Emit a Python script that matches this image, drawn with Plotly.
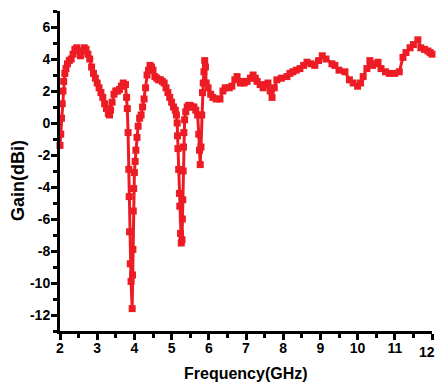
import plotly.graph_objects as go

freq = [2.00, 2.02, 2.04, 2.06, 2.08, 2.10, 2.13, 2.16, 2.20, 2.25, 2.30, 2.35, 2.40, 2.45,
        2.50, 2.55, 2.60, 2.65, 2.70, 2.75, 2.80, 2.85, 2.90, 2.95, 3.00, 3.05, 3.10, 3.15,
        3.20, 3.25, 3.30, 3.33, 3.36, 3.40, 3.45, 3.50, 3.55, 3.60, 3.65, 3.70, 3.76, 3.79,
        3.81, 3.83, 3.85, 3.86, 3.87, 3.89, 3.91, 3.94, 3.95, 3.96, 3.97, 3.98, 4.00, 4.02,
        4.04, 4.07, 4.10, 4.14, 4.18, 4.22, 4.26, 4.30, 4.34, 4.38, 4.42, 4.46, 4.50, 4.55,
        4.60, 4.65, 4.70, 4.75, 4.80, 4.85, 4.90, 4.95, 5.00, 5.05, 5.10, 5.13, 5.15, 5.16,
        5.17, 5.19, 5.21, 5.22, 5.24, 5.26, 5.28, 5.29, 5.30, 5.31, 5.32, 5.33, 5.35, 5.38,
        5.42, 5.46, 5.50, 5.55, 5.60, 5.65, 5.70, 5.73, 5.75, 5.77, 5.79, 5.81, 5.83, 5.85,
        5.87, 5.89, 5.91, 5.93, 5.98, 6.05, 6.11, 6.20, 6.30, 6.38, 6.44, 6.55, 6.62, 6.70,
        6.76, 6.85, 6.89, 6.95, 7.03, 7.12, 7.19, 7.25, 7.30, 7.38, 7.46, 7.53, 7.59, 7.65,
        7.70, 7.76, 7.83, 7.95, 8.10, 8.18, 8.26, 8.35, 8.45, 8.55, 8.64, 8.75, 8.85, 8.95,
        9.05, 9.15, 9.31, 9.39, 9.50, 9.66, 9.78, 9.88, 10.00, 10.08, 10.15, 10.25, 10.33,
        10.40, 10.48, 10.55, 10.63, 10.75, 10.85, 11.00, 11.12, 11.22, 11.30, 11.41, 11.50,
        11.62, 11.70, 11.80, 11.89, 11.95, 12.00]

gain = [-1.4, -0.7, 0.3, 1.2, 2.0, 2.6, 3.1, 3.4, 3.7, 3.9, 4.0, 4.3, 4.6, 4.7,
        4.5, 4.2, 4.5, 4.7, 4.6, 4.3, 4.0, 3.5, 3.1, 2.8, 2.5, 2.2, 1.9, 1.6,
        1.2, 0.9, 0.6, 0.5, 0.8, 1.3, 1.8, 2.0, 2.0, 2.1, 2.3, 2.5, 2.4, 1.6,
        0.9, -0.6, -2.9, -4.6, -6.8, -8.8, -9.9, -11.6, -9.5, -7.9, -5.5, -4.1, -3.1, -2.4,
        -1.7, -0.9, -0.2, 0.3, 0.5, 1.0, 1.5, 2.2, 3.0, 3.3, 3.6, 3.5, 3.3, 2.9,
        2.8, 2.7, 2.7, 2.6, 2.5, 2.2, 1.9, 1.6, 1.3, 1.0, 0.8, 0.5, 0.0, -0.8,
        -1.6, -2.9, -4.4, -5.2, -6.9, -7.5, -7.3, -6.0, -4.8, -3.0, -1.5, -0.6, 0.2, 0.7,
        1.0, 1.1, 1.1, 1.0, 1.0, 0.8, 0.5, -0.7, -1.7, -2.6, -1.5, 0.5, 1.9, 2.5,
        3.2, 3.9, 3.5, 2.5, 2.2, 1.8, 1.6, 1.5, 1.5, 2.0, 2.2, 2.2, 2.3, 2.7,
        2.9, 2.5, 2.6, 2.5, 2.6, 2.8, 3.0, 2.8, 2.6, 2.4, 2.2, 2.4, 2.5, 2.0,
        1.6, 2.2, 2.7, 2.8, 2.9, 3.1, 3.2, 3.3, 3.4, 3.6, 3.8, 3.7, 3.6, 3.9,
        4.2, 4.0, 3.7, 3.6, 3.3, 3.2, 2.7, 2.5, 2.3, 2.5, 2.9, 3.4, 3.9,
        3.6, 3.7, 3.8, 3.4, 3.2, 3.1, 3.1, 3.2, 4.1, 4.4, 4.7, 4.9,
        5.2, 4.7, 4.6, 4.5, 4.4, 4.3]

x_ticks = [2, 3, 4, 5, 6, 7, 8, 9, 10, 11, 12]
y_ticks = [-12, -10, -8, -6, -4, -2, 0, 2, 4, 6]
y_tick_text = [str(v) for v in y_ticks]

RED = "#ED1C24"
FONT = "Liberation Sans, Arial, sans-serif"
TICKFONT = dict(family=FONT, size=14, color="black", weight="bold")

fig = go.Figure()
fig.add_trace(go.Scatter(
    x=freq, y=gain, mode="lines+markers",
    line=dict(color=RED, width=3),
    marker=dict(symbol="square", size=7, color=RED),
    showlegend=False, cliponaxis=False,
))

axis_common = dict(
    showgrid=False, zeroline=False, showline=True, linecolor="black", linewidth=3,
    ticks="outside", tickcolor="black", tickwidth=3, ticklen=6,
    tickfont=TICKFONT,
)

# last x label (12) sits on the paper edge; draw it as an annotation flush with the right edge
fig.update_xaxes(range=[2, 12], tickvals=x_ticks,
                 ticktext=[str(v) if v != x_ticks[-1] else "" for v in x_ticks],
                 minor=dict(dtick=0.5, ticks="outside", ticklen=4, tickwidth=3, tickcolor="black"),
                 ticklabelstandoff=-4, **axis_common)
fig.update_yaxes(range=[-13, 7], tickvals=y_ticks, ticktext=y_tick_text,
                 minor=dict(dtick=1, ticks="outside", ticklen=4, tickwidth=3, tickcolor="black"),
                 ticklabelstandoff=-2, **axis_common)

fig.update_layout(
    width=438, height=388,
    margin=dict(l=60, r=6, t=11, b=57),
    plot_bgcolor="white", paper_bgcolor="white",
    annotations=[
        dict(text=str(x_ticks[-1]), xref="paper", yref="paper", x=1, xshift=5, y=-0.033,
             showarrow=False, xanchor="right", yanchor="top", font=TICKFONT),
        dict(text="Frequency(GHz)", xref="paper", yref="paper", x=0.5, y=-0.134,
             showarrow=False, xanchor="center", yanchor="middle",
             font=dict(family=FONT, size=16, color="black", weight="bold")),
        dict(text="Gain(dBi)", xref="paper", yref="paper", x=-0.113, y=0.472,
             showarrow=False, xanchor="center", yanchor="middle", textangle=-90,
             font=dict(family=FONT, size=18, color="black", weight="bold")),
    ],
)

fig.write_html("out.html", config={"displayModeBar": False},
               post_script="document.body.style.margin='0';")
